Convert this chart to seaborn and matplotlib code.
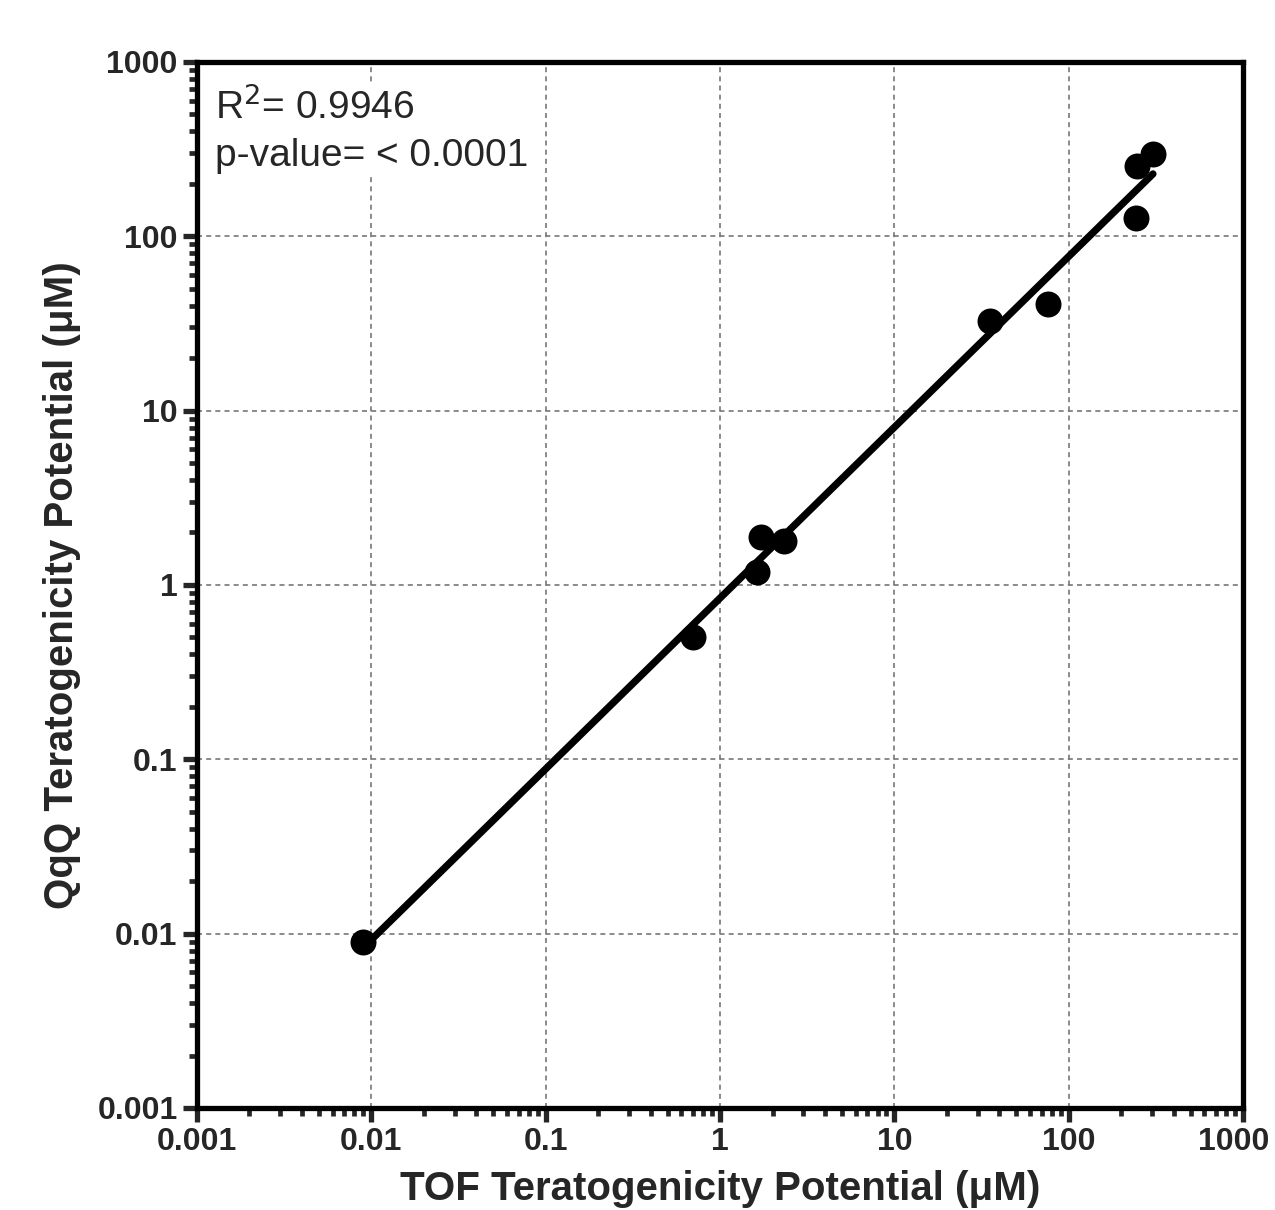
import numpy as np
import pandas as pd
import seaborn as sns
import matplotlib.pyplot as plt
import matplotlib.transforms as mtransforms
from matplotlib.ticker import LogLocator, FixedLocator, NullFormatter

# 数据
tof = [0.009, 0.70, 1.63, 1.72, 2.33, 35.2, 75.7, 243, 246, 304]
qqq = [0.009, 0.50, 1.19, 1.88, 1.79, 32.7, 40.9, 127, 253, 297]
r2_text = "R$^{2}$= 0.9946"
p_text = "p-value= < 0.0001"
tick_vals = [0.001, 0.01, 0.1, 1, 10, 100, 1000]
tick_labels = ["0.001", "0.01", "0.1", "1", "10", "100", "1000"]

df = pd.DataFrame({"TOF": tof, "QqQ": qqq})

# 对数空间线性回归
slope, intercept = np.polyfit(np.log10(df["TOF"]), np.log10(df["QqQ"]), 1)
fit_x = np.array([df["TOF"].min(), df["TOF"].max()])
fit = pd.DataFrame({"TOF": fit_x, "QqQ": 10 ** (intercept + slope * np.log10(fit_x))})

sns.set_style("ticks")
plt.rcParams["font.family"] = ["Liberation Sans", "DejaVu Sans"]

fig = plt.figure(figsize=(12.75, 12.1), dpi=100)
ax = fig.add_axes([0.1545, 0.0843, 0.8205, 0.8645])

ax.set_xscale("log")
ax.set_yscale("log")
ax.set_xlim(0.001, 1000)
ax.set_ylim(0.001, 1000)

sns.lineplot(data=fit, x="TOF", y="QqQ", ax=ax, color="black", linewidth=5.2, zorder=3)
sns.scatterplot(data=df, x="TOF", y="QqQ", ax=ax, color="black", s=350,
                edgecolor="black", linewidth=0, zorder=4)

# 网格
ax.grid(True, which="major", color="#777777", linestyle=(0, (3, 2.5)), linewidth=1.2)
ax.set_axisbelow(True)

# 坐标轴
for s in ax.spines.values():
    s.set_linewidth(3.8)
    s.set_color("black")

for axis in (ax.xaxis, ax.yaxis):
    axis.set_major_locator(FixedLocator(tick_vals))
    axis.set_minor_locator(LogLocator(base=10, subs=np.arange(2, 10), numticks=20))
    axis.set_minor_formatter(NullFormatter())
ax.set_xticklabels(tick_labels)
ax.set_yticklabels(tick_labels)
ax.tick_params(which="major", length=10, width=3.8, direction="out", labelsize=23, pad=4)
ax.tick_params(which="minor", length=6, width=3.4, direction="out")
for lab in ax.get_xticklabels() + ax.get_yticklabels():
    lab.set_fontweight("bold")

# 最右边的 "1000" 稍微左移, 免得被裁掉
last = ax.get_xticklabels()[-1]
last.set_transform(last.get_transform() + mtransforms.ScaledTranslation(-7 / 72, 0, fig.dpi_scale_trans))

ax.set_xlabel("TOF Teratogenicity Potential (\u03bcM)", fontsize=29, fontweight="bold", labelpad=9)
ax.set_ylabel("QqQ Teratogenicity Potential (\u03bcM)", fontsize=29, fontweight="bold", labelpad=12)

ax.text(0.017, 0.976, r2_text + "\n" + p_text, transform=ax.transAxes, fontsize=28,
        va="top", ha="left", linespacing=1.4, zorder=5,
        bbox=dict(facecolor="white", edgecolor="none", pad=2))

fig.savefig("out.png", dpi=100)
